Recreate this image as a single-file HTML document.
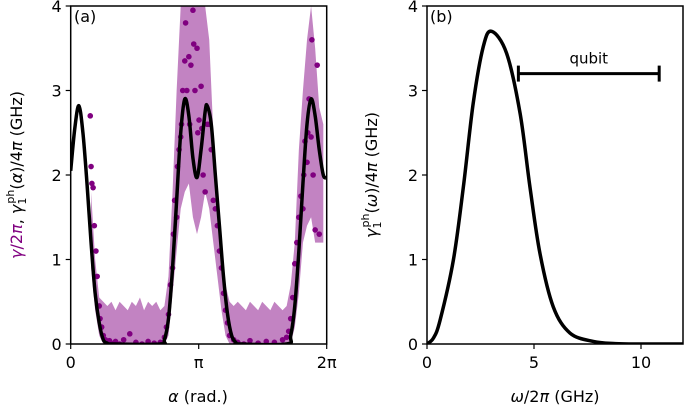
<!DOCTYPE html>
<html><head><meta charset="utf-8"><style>
html,body{margin:0;padding:0;background:#fff;}
svg{display:block;font-family:"DejaVu Sans","Liberation Sans",sans-serif;}
</style></head><body>
<svg id="chart" width="685" height="411" viewBox="0 0 685 411"></svg>
<script>
// ---- Panel (a) data ----
const curveAlpha = [0,0.1,0.2,0.3,0.4,0.5,0.6,0.7,0.8,0.9,1.0,2.2,2.3,2.4,2.5,2.6,2.7,2.8,2.9,3.0,3.1,3.2,3.3,3.35,3.45,3.55,3.65,3.75,3.85,3.95,4.05,4.15,5.3,5.4,5.5,5.6,5.7,5.8,5.9,6.0,6.1,6.2,6.283];
const curveGamma = [2.05,2.55,2.82,2.5,1.9,1.2,0.6,0.25,0.05,0.01,0,0,0.05,0.3,0.9,1.7,2.5,2.9,2.7,2.2,1.97,2.3,2.75,2.82,2.6,2.0,1.4,0.8,0.35,0.1,0.02,0,0,0.1,0.45,1.1,1.9,2.6,2.9,2.7,2.3,2.0,1.97];
const bandAlpha = [0.5,0.6,0.7,0.8,0.9,1.0,1.1,1.2,1.3,1.4,1.5,1.6,1.7,1.8,1.9,2.0,2.1,2.2,2.3,2.4,2.5,2.6,2.7,2.8,2.9,3.0,3.1,3.2,3.3,3.4,3.5,3.6,3.7,3.8,3.9,4.0,4.1,4.2,4.3,4.4,4.5,4.6,4.7,4.8,4.9,5.0,5.1,5.2,5.3,5.4,5.5,5.6,5.7,5.8,5.9,6.0,6.1,6.2];
const bandUpper = [1.8,1.0,0.55,0.5,0.45,0.5,0.4,0.5,0.45,0.4,0.5,0.45,0.55,0.4,0.5,0.45,0.5,0.4,0.45,0.8,1.8,3.0,4,4,4,4,4,4,4,3.6,2.5,1.8,1.3,0.7,0.5,0.45,0.5,0.45,0.4,0.5,0.45,0.4,0.5,0.45,0.4,0.5,0.45,0.4,0.45,0.7,1.2,2.3,3.0,3.6,4,3.5,2.8,2.6];
const bandLower = [0.9,0.4,0.1,0,0,0,0,0,0,0,0,0,0,0,0,0,0,0,0,0.1,0.6,1.1,1.6,1.8,1.9,1.5,1.3,1.5,1.8,1.6,1.2,0.8,0.4,0.1,0,0,0,0,0,0,0,0,0,0,0,0,0,0,0,0,0.2,0.6,1.2,1.4,1.5,1.2,1.2,1.2];
const dotAlpha = [0.48,0.5,0.52,0.55,0.58,0.62,0.65,0.7,0.72,0.76,0.8,0.85,0.9,0.95,1.0,1.1,1.2,1.3,1.45,1.6,1.75,1.9,2.05,2.2,2.3,2.35,2.4,2.45,2.5,2.52,2.55,2.6,2.62,2.66,2.7,2.72,2.75,2.8,2.82,2.85,2.9,2.92,2.95,3.0,3.02,3.05,3.1,3.12,3.15,3.2,3.22,3.25,3.3,3.35,3.4,3.45,3.5,3.55,3.6,3.65,3.7,3.75,3.8,3.85,3.9,4.0,4.1,4.25,4.4,4.6,4.8,5.0,5.2,5.3,5.35,5.4,5.45,5.5,5.55,5.6,5.65,5.7,5.72,5.75,5.8,5.82,5.85,5.9,5.92,5.95,6.0,6.05,6.1];
const dotGamma = [2.7,2.1,1.9,1.85,1.4,1.1,0.8,0.45,0.3,0.2,0.1,0.05,0.02,0.04,0.01,0.03,0.0,0.05,0.12,0.02,0.0,0.03,0.01,0.02,0.08,0.2,0.35,0.7,0.9,1.3,1.7,1.5,2.1,2.3,2.45,2.6,3.0,3.35,3.8,3.0,3.4,2.6,3.3,3.95,3.55,3.0,3.5,2.5,2.65,3.05,2.55,2.0,1.8,2.6,2.6,2.3,1.7,1.6,1.4,1.1,0.9,0.6,0.4,0.25,0.1,0.05,0.02,0.0,0.04,0.01,0.03,0.02,0.05,0.08,0.15,0.3,0.55,0.95,1.2,1.5,1.75,1.6,2.0,2.4,2.15,2.5,2.9,2.45,3.6,2.0,1.35,3.3,1.3];
// ---- Panel (b) data ----
const omega = [0,0.3,0.61,1.23,1.7,2.16,2.63,3.02,3.72,4.35,4.81,5.28,5.9,6.68,7.77,8.8,10,11,12];
const gammaPh = [0,0.07,0.28,0.99,1.86,2.85,3.52,3.7,3.44,2.73,1.86,1.07,0.44,0.13,0.03,0.005,0,0,0];
const qubitRange = [4.27,10.85];
const qubitLevel = 3.2;
const xTicksA = ["0","π","2π"];
const xTickValsA = [0,Math.PI,2*Math.PI];
const yTicks = [0,1,2,3,4];
const xTicksB = [0,5,10];

const NS="http://www.w3.org/2000/svg";
const svg=document.getElementById('chart');
function el(t,a,p){const e=document.createElementNS(NS,t);for(const k in a)e.setAttribute(k,a[k]);(p||svg).appendChild(e);return e;}
const y0=344,y4=6;
function Y(v){return y0-(y0-y4)*v/4;}
function XA(a){return 70.7+(326.7-70.7)*a/(2*Math.PI);}
function XB(w){return 427+(641-427)*w/10;}
function smooth(pts){let d="M"+pts[0][0]+","+pts[0][1];for(let i=0;i<pts.length-1;i++){const p0=pts[Math.max(0,i-1)],p1=pts[i],p2=pts[i+1],p3=pts[Math.min(pts.length-1,i+2)];const c1=[p1[0]+(p2[0]-p0[0])/6,p1[1]+(p2[1]-p0[1])/6],c2=[p2[0]-(p3[0]-p1[0])/6,p2[1]-(p3[1]-p1[1])/6];d+=" C"+c1+" "+c2+" "+p2;}return d;}

const defs=el('defs',{});
const cp=el('clipPath',{id:'ca'},defs);el('rect',{x:70.7,y:6,width:256,height:338},cp);
const cpb=el('clipPath',{id:'cb'},defs);el('rect',{x:427,y:6,width:256,height:338},cpb);

const ga=el('g',{'clip-path':'url(#ca)'});


let bd="M"+bandAlpha.map((a,i)=>XA(a)+","+Y(bandUpper[i])).join(" L");
for(let i=bandAlpha.length-1;i>=0;i--)bd+=" L"+XA(bandAlpha[i])+","+Y(bandLower[i]);
const band=el('path',{d:bd+"Z",fill:'#c283c2'},ga);


dotAlpha.forEach((a,i)=>{const c=el('circle',{cx:XA(a),cy:Y(dotGamma[i]),r:2.8,fill:'#800080'},ga);

});
const ca=el('path',{d:smooth(curveAlpha.map((a,i)=>[XA(a),Y(curveGamma[i])])),fill:'none',stroke:'#000','stroke-width':3.5},ga);



const gb=el('g',{'clip-path':'url(#cb)'});
const cb=el('path',{d:smooth(omega.map((w,i)=>[XB(w),Y(gammaPh[i])])),fill:'none',stroke:'#000','stroke-width':3.5},gb);


const qb=el('g',{stroke:'#000','stroke-width':3});


el('line',{x1:XB(qubitRange[0]),x2:XB(qubitRange[1]),y1:Y(qubitLevel),y2:Y(qubitLevel)},qb);
el('line',{x1:XB(qubitRange[0]),x2:XB(qubitRange[0]),y1:Y(qubitLevel)-8,y2:Y(qubitLevel)+8},qb);
el('line',{x1:XB(qubitRange[1]),x2:XB(qubitRange[1]),y1:Y(qubitLevel)-8,y2:Y(qubitLevel)+8},qb);
const qt=el('text',{x:(XB(qubitRange[0])+XB(qubitRange[1]))/2,y:Y(qubitLevel)-10,'text-anchor':'middle','font-size':15});qt.textContent='qubit';



function frame(x0,x1,name){const r=el('rect',{x:x0,y:6,width:x1-x0,height:338,fill:'none',stroke:'#000','stroke-width':1.5});


yTicks.forEach(v=>{el('line',{x1:x0-5,x2:x0,y1:Y(v),y2:Y(v),stroke:'#000','stroke-width':1.2});
const t=el('text',{x:x0-9,y:Y(v)+6,'text-anchor':'end','font-size':16});t.textContent=v;

});}
frame(70.7,326.7,'panel-a-frame');frame(427,683,'panel-b-frame');
xTickValsA.forEach((v,i)=>{const x=XA(v);el('line',{x1:x,x2:x,y1:344,y2:349,stroke:'#000','stroke-width':1.2});
const t=el('text',{x:x,y:368,'text-anchor':'middle','font-size':16});t.textContent=xTicksA[i];

});
xTicksB.forEach(v=>{const x=XB(v);el('line',{x1:x,x2:x,y1:344,y2:349,stroke:'#000','stroke-width':1.2});
const t=el('text',{x:x,y:368,'text-anchor':'middle','font-size':16});t.textContent=v;

});

function txt(s,a,name){const t=el('text',a);t.innerHTML=s;return t;}
txt('(a)',{x:74,y:22,'font-size':16},'panel-a-label');
txt('(b)',{x:430,y:22,'font-size':16},'panel-b-label');
txt('<tspan font-style="italic">α</tspan> (rad.)',{x:198,y:402,'text-anchor':'middle','font-size':16},'x-axis-title-a');
txt('<tspan font-style="italic">ω</tspan>/2<tspan font-style="italic">π</tspan> (GHz)',{x:555,y:402,'text-anchor':'middle','font-size':16},'x-axis-title-b');
txt('<tspan fill="#800080"><tspan font-style="italic">γ</tspan>/2<tspan font-style="italic">π</tspan></tspan>, <tspan font-style="italic">γ</tspan><tspan font-size="11" dy="4">1</tspan><tspan font-size="11" dx="-6" dy="-12">ph</tspan><tspan dy="8">(<tspan font-style="italic">α</tspan>)/4<tspan font-style="italic">π</tspan> (GHz)</tspan>',{transform:'translate(22,175) rotate(-90)','text-anchor':'middle','font-size':16},'y-axis-title-a');
txt('<tspan font-style="italic">γ</tspan><tspan font-size="11" dy="4">1</tspan><tspan font-size="11" dx="-6" dy="-12">ph</tspan><tspan dy="8">(<tspan font-style="italic">ω</tspan>)/4<tspan font-style="italic">π</tspan> (GHz)</tspan>',{transform:'translate(377,175) rotate(-90)','text-anchor':'middle','font-size':16},'y-axis-title-b');
</script>
</body></html>
